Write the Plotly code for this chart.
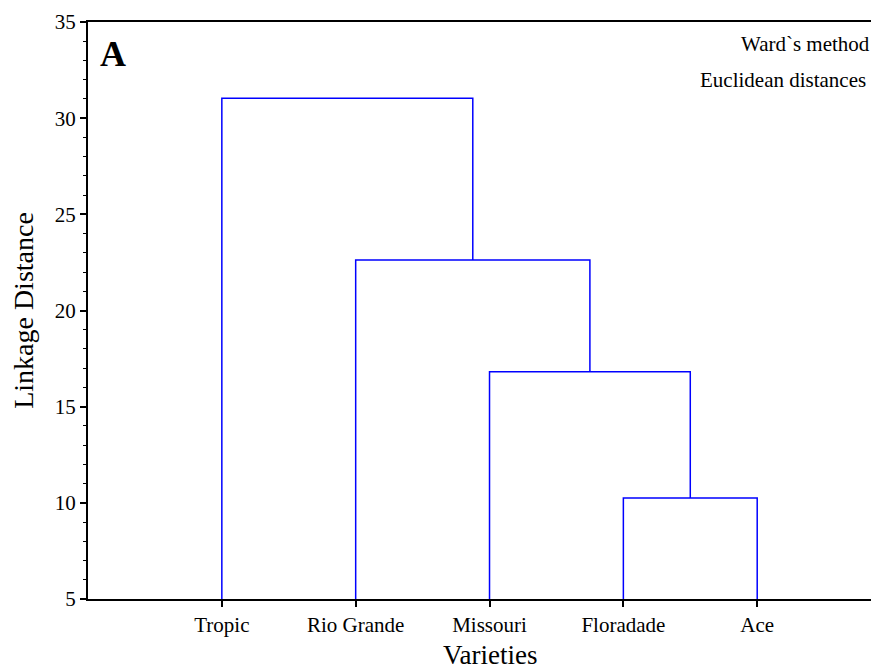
import plotly.graph_objects as go

# Data
varieties = ["Tropic", "Rio Grande", "Missouri", "Floradade", "Ace"]
# merges: (left member, right member, linkage distance); members are leaf names or earlier merge indices
merge_left = ["Floradade", "Missouri", "Rio Grande", "Tropic"]
merge_right = ["Ace", 0, 1, 2]
merge_heights = [10.25, 16.82, 22.63, 31.04]
y_ticks = [5, 10, 15, 20, 25, 30, 35]

FONT = "Liberation Serif"
BLUE = "#0000FF"

leaf_pos = {name: i + 1 for i, name in enumerate(varieties)}
node_pos = {}
node_h = {}

def pos_h(member):
    if isinstance(member, str):
        return leaf_pos[member], y_ticks[0]
    return node_pos[member], node_h[member]

xs, ys = [], []
for k, (a, b, h) in enumerate(zip(merge_left, merge_right, merge_heights)):
    xa, ha = pos_h(a)
    xb, hb = pos_h(b)
    xs += [xa, xa, xb, xb, None]
    ys += [ha, h, h, hb, None]
    node_pos[k] = (xa + xb) / 2
    node_h[k] = h

fig = go.Figure()
fig.add_trace(go.Scatter(x=xs, y=ys, mode="lines",
                         line=dict(color=BLUE, width=1.5),
                         hoverinfo="skip", showlegend=False))

fig.update_layout(
    width=871, height=664,
    margin=dict(l=80, r=0, t=14, b=73),
    paper_bgcolor="white", plot_bgcolor="white",
    font=dict(family=FONT, color="black", size=21),
    xaxis=dict(
        range=[0, 5.91], tickvals=[leaf_pos[v] for v in varieties], ticktext=varieties,
        showgrid=False, zeroline=False, showline=True, linecolor="black", linewidth=2,
        mirror=True, ticks="outside", ticklen=6, tickcolor="black", tickwidth=1.5,
        tickfont=dict(family=FONT, size=21),
    ),
    yaxis=dict(
        range=[5, 35], tickvals=y_ticks,
        showgrid=False, zeroline=False, showline=True, linecolor="black", linewidth=2,
        ticks="outside", ticklen=6, tickcolor="black", tickwidth=1.5,
        minor=dict(dtick=1, ticks="outside", ticklen=3, tickcolor="black", tickwidth=1.2, showgrid=False),
        tickfont=dict(family=FONT, size=21),
        title=dict(text="Linkage Distance", font=dict(family=FONT, size=28), standoff=16),
    ),
    annotations=[
        dict(text="Varieties", x=3, y=0, xref="x", yref="paper",
             xanchor="center", yanchor="middle", yshift=-56, showarrow=False,
             font=dict(family=FONT, size=27, color="black")),
        dict(text="<b>A</b>", x=0.031, y=0.944, xref="paper", yref="paper",
             xanchor="center", yanchor="middle", showarrow=False,
             font=dict(family=FONT, size=36, color="black")),
        dict(text="Ward`s method", x=0.991, y=0.962, xref="paper", yref="paper",
             xanchor="right", yanchor="middle", showarrow=False,
             font=dict(family=FONT, size=21, color="black")),
        dict(text="Euclidean distances", x=0.986, y=0.8995, xref="paper", yref="paper",
             xanchor="right", yanchor="middle", showarrow=False,
             font=dict(family=FONT, size=21, color="black")),
    ],
)

fig.write_html("out.html")
